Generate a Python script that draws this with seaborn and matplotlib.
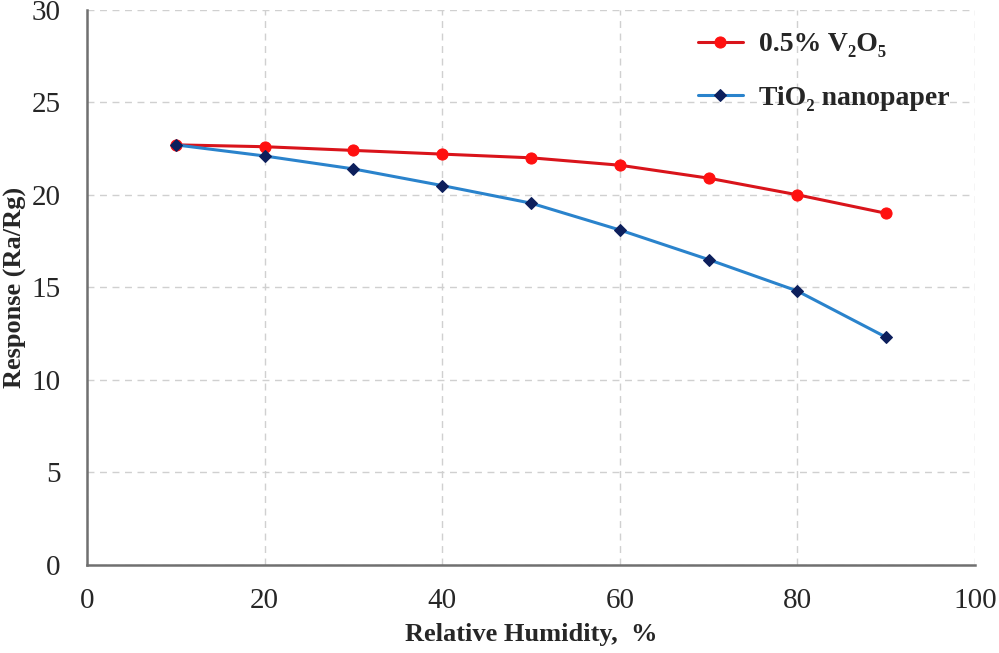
import numpy as np
import pandas as pd
import matplotlib
matplotlib.use("Agg")
import matplotlib.pyplot as plt
import seaborn as sns

humidity = [10, 20, 30, 40, 50, 60, 70, 80, 90]
v2o5 = [22.7, 22.6, 22.4, 22.2, 22.0, 21.6, 20.9, 20.0, 19.0]
tio2 = [22.7, 22.1, 21.4, 20.5, 19.55, 18.1, 16.5, 14.8, 12.3]
series_names = ["0.5% V₂O₅", "TiO₂ nanopaper"]

sns.set_style("white")
plt.rcParams["font.family"] = ["Liberation Serif", "DejaVu Serif"]

df = pd.DataFrame({"hum": humidity * 2,
                   "resp": v2o5 + tio2,
                   "series": [series_names[0]] * 9 + [series_names[1]] * 9})

fig = plt.figure(figsize=(9.99, 6.53), dpi=100)
ax = fig.add_axes([0.087, 0.135, 0.889, 0.85])

# lines
sns.lineplot(data=df[df.series == series_names[0]], x="hum", y="resp", ax=ax,
             color="#d9141b", lw=2.2, marker="o", markersize=8,
             markerfacecolor="#ff1010", markeredgecolor="#ff1010",
             label=series_names[0])
sns.lineplot(data=df[df.series == series_names[1]], x="hum", y="resp", ax=ax,
             color="#2a83cc", lw=2.2, marker="D", markersize=6,
             markerfacecolor="#0d1f5c", markeredgecolor="#0d1f5c",
             label=series_names[1])

ax.set_xlim(0, 100)
ax.set_ylim(0, 30)
ax.set_xticks(np.arange(0, 101, 20))
ax.set_yticks(np.arange(0, 31, 5))
ax.grid(True, color="#d0d0d0", ls=(0, (5, 4)), lw=1)
ax.tick_params(labelsize=21, length=0)
ax.tick_params(axis="x", pad=17)
ax.tick_params(axis="y", pad=19)

for s in ["top", "right"]:
    ax.spines[s].set_visible(False)
for s in ["left", "bottom"]:
    ax.spines[s].set_color("#707070")
    ax.spines[s].set_linewidth(1.8)

ax.set_xlabel("Relative Humidity,  %", fontsize=19, fontweight="bold", labelpad=6)
ax.set_ylabel("Response (Ra/Rg)", fontsize=19, fontweight="bold")
ax.yaxis.set_label_coords(-0.068, 0.5)

leg = ax.legend(loc="upper left", bbox_to_anchor=(0.66, 1.005), frameon=False,
                prop={"size": 20, "weight": "bold"}, handlelength=1.6,
                handletextpad=0.6, labelspacing=1.0)

fig.savefig("out.png", dpi=100)
